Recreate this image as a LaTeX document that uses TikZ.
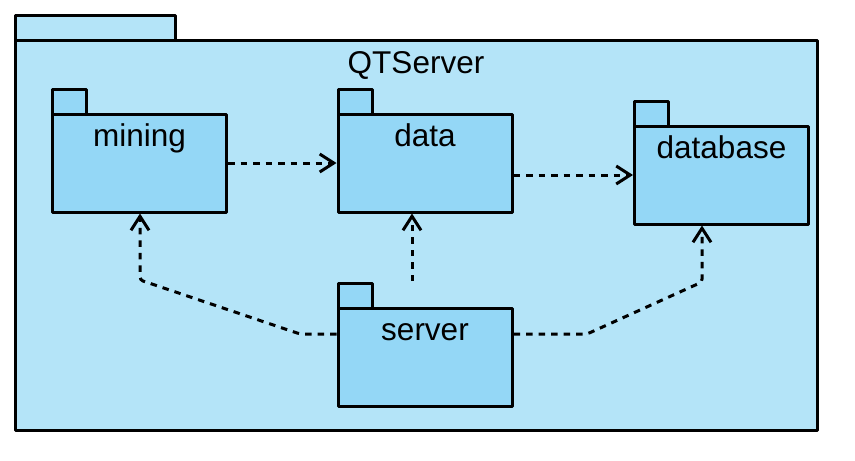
\documentclass[tikz,border=0pt]{standalone}
\usepackage{fontspec}
\setmainfont{Liberation Sans}
\usetikzlibrary{arrows.meta}

\definecolor{outerfill}{RGB}{180,228,248}
\definecolor{pkgfill}{RGB}{148,215,246}
\def\tabw{34}
\def\tabh{25}

\begin{document}
\begin{tikzpicture}[x=1pt, y=-1pt,
    nodes = {font=\fontsize{31.5}{36}\selectfont},
    frame/.style = {draw, line width=3pt, line join=round, inner sep=0pt},
    pkg/.style = {frame, fill=pkgfill, minimum width=174pt, minimum height=98pt},
    tab/.style = {draw, line width=3pt, line join=round, fill=pkgfill},
    lbl/.style = {anchor=base, inner sep=0pt},
    dep/.style = {line width=3pt, dash pattern=on 6.5pt off 6pt,
      -{Straight Barb[length=14pt,width=18pt,line width=3pt]}}]
  \useasboundingbox (0,0) rectangle (855,461);
  % outer package
  \draw[tab, fill=outerfill] (15,15) rectangle (175,40);
  \node[frame, fill=outerfill, minimum width=802pt, minimum height=390pt]
    (qtserver) at (416,235) {};
  \node[lbl] at ([yshift=-35pt]qtserver.north) {QTServer};
  % inner packages
  \foreach \name/\x/\y in {
      mining/139.5/163,
      data/425/163,
      database/721.5/175,
      server/425/357
    } {
      \draw[tab] (\x-87,\y-49) rectangle ++(\tabw,-\tabh); % tab on top left
      \node[pkg] (\name) at (\x,\y) {};
      \node[lbl] at ([yshift=-34pt]\name.north) {\name};
    };
  % bend points of the routed dependencies
  \coordinate (m1) at (300,334);
  \coordinate (m2) at (140,280);
  \coordinate (d1) at (412,281);
  \coordinate (b1) at (587,334);
  \coordinate (b2) at (702,282);
  % dependencies
  \draw[dep] (mining.east) -- (data.west);
  \draw[dep] (data.east |- database.west) -- (database.west);
  \draw[dep, rounded corners=3pt] (server.west |- m1) -- (m1) -- (m2) -- (mining.south -| m2);
  \draw[dep] (d1) -- (data.south -| d1);
  \draw[dep, rounded corners=3pt] (server.east |- b1) -- (b1) -- (b2) -- (database.south -| b2);
\end{tikzpicture}
\end{document}
